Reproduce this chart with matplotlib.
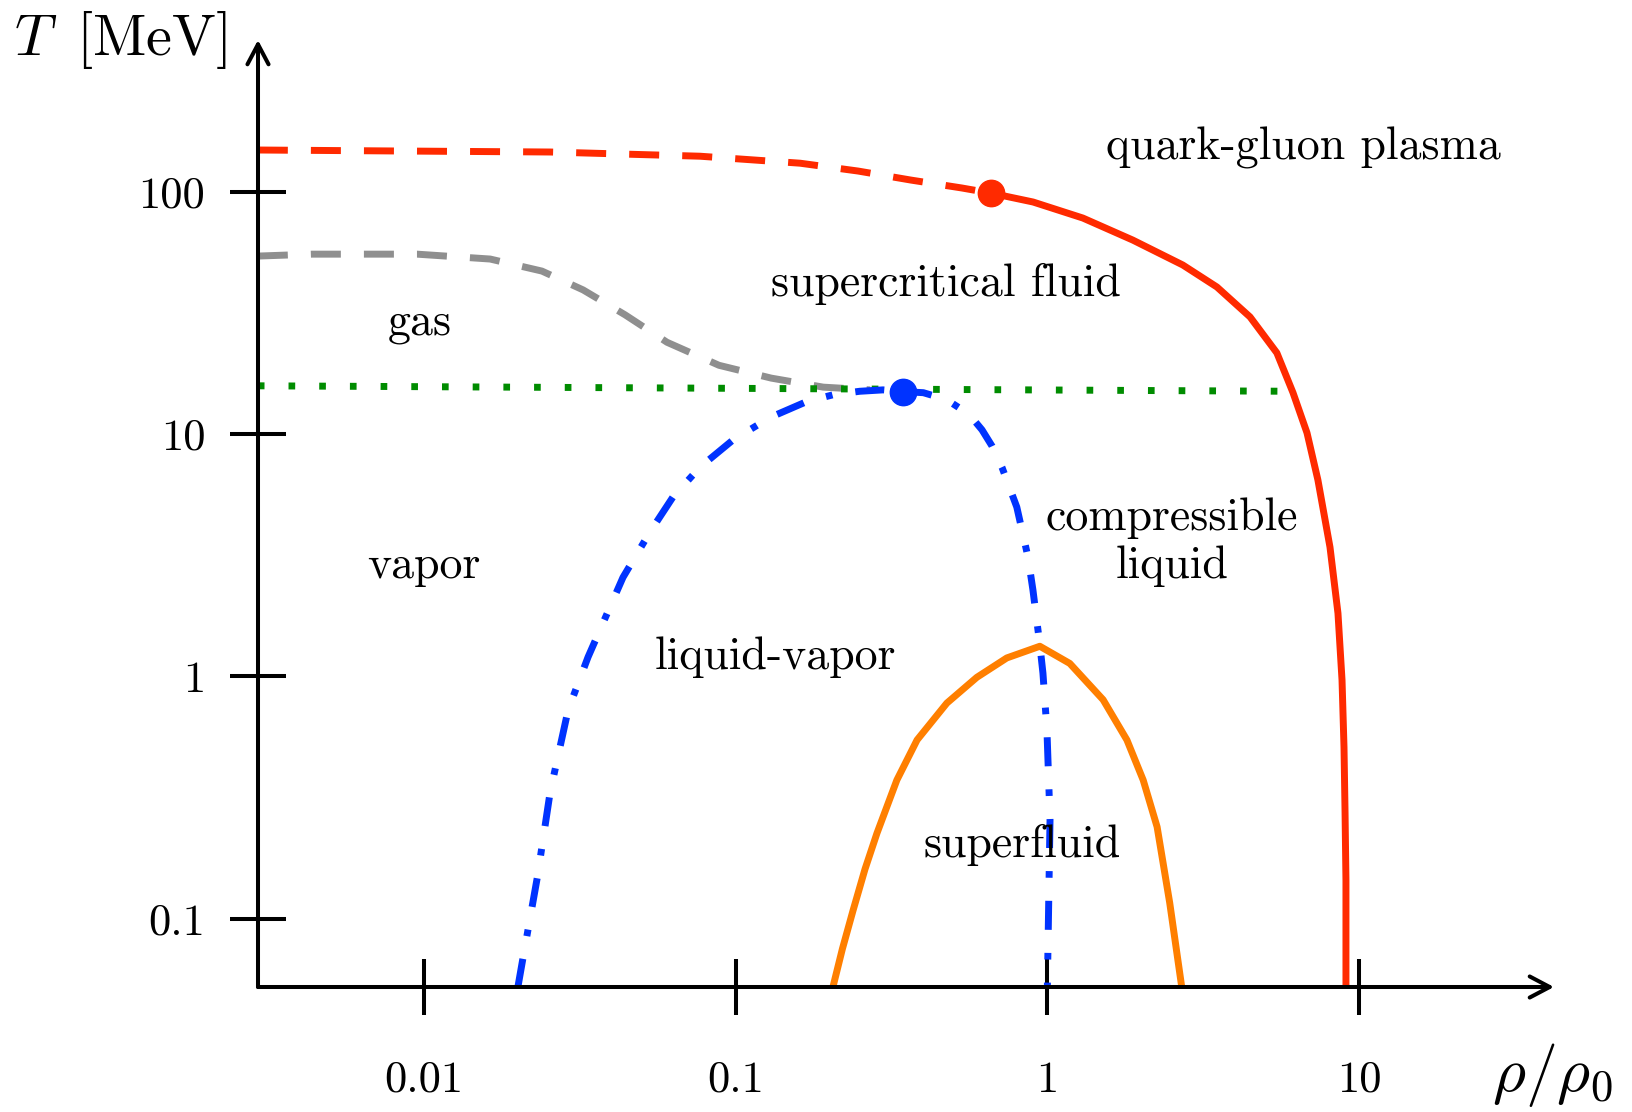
import matplotlib
matplotlib.use("Agg")
import matplotlib.pyplot as plt

plt.rcParams['font.family'] = ['cmr10', 'DejaVu Serif']
plt.rcParams['mathtext.fontset'] = 'cm'
plt.rcParams['axes.unicode_minus'] = False
plt.rcParams['lines.scale_dashes'] = False
plt.rcParams['lines.solid_joinstyle'] = 'round'
plt.rcParams['lines.dash_joinstyle'] = 'round'

# deconfinement line (dashed crossover part, then solid first-order part)
qgp_cross_x = [0.00293, 0.00837, 0.0254, 0.0768, 0.161, 0.247, 0.365, 0.532, 0.659]
qgp_cross_T = [148.5, 147.1, 145.7, 140.0, 131.0, 121.6, 111.6, 103.5, 98.6]
qgp_first_x = [0.659, 0.900, 1.30, 1.88, 2.72, 3.50, 4.47, 5.45, 6.14, 6.81, 7.38,
               8.07, 8.56, 8.82, 8.95, 9.02, 9.08, 9.08]
qgp_first_T = [98.6, 90.6, 77.8, 63.1, 49.8, 40.4, 30.4, 21.6, 14.8, 10.1, 6.46,
               3.41, 1.82, 0.965, 0.510, 0.273, 0.144, 0.052]
qgp_cep = (0.659, 98.6)

# gas / vapor crossover
gas_x = [0.00293, 0.00438, 0.0095, 0.0163, 0.0239, 0.0324, 0.0442, 0.0602,
         0.0884, 0.130, 0.191, 0.270]
gas_T = [54.2, 55.2, 55.2, 52.7, 47.0, 39.3, 31.0, 23.9, 19.2, 17.0, 15.6, 15.2]

# critical temperature line
tc_x = [0.00293, 6.0]
tc_T = [15.8, 15.0]

# liquid-vapor coexistence
lv_left_x = [0.0200, 0.0208, 0.0231, 0.0254, 0.0290, 0.0336, 0.0435, 0.0531,
             0.0629, 0.0768, 0.0980, 0.129, 0.169, 0.205, 0.250, 0.297, 0.344]
lv_left_T = [0.052, 0.0693, 0.148, 0.333, 0.726, 1.20, 2.56, 3.94,
             5.49, 7.29, 9.44, 11.7, 13.6, 14.5, 15.0, 15.2, 14.96]
lv_right_x = [0.344, 0.400, 0.446, 0.490, 0.532, 0.575, 0.617, 0.665, 0.715,
              0.798, 0.867, 0.899, 0.946, 0.968, 0.997, 1.02, 1.00]
lv_right_T = [14.96, 14.8, 14.2, 13.5, 12.6, 11.6, 10.4, 8.9, 7.29,
              4.99, 3.10, 2.27, 1.35, 1.03, 0.600, 0.255, 0.052]
lv_cep = (0.344, 14.96)

# superfluid dome
sf_x = [0.205, 0.220, 0.238, 0.260, 0.284, 0.329, 0.382, 0.476, 0.594, 0.741,
        0.946, 1.18, 1.51, 1.80, 2.03, 2.25, 2.47, 2.70]
sf_T = [0.052, 0.075, 0.108, 0.160, 0.225, 0.373, 0.546, 0.775, 0.99, 1.19,
        1.33, 1.13, 0.80, 0.546, 0.373, 0.239, 0.116, 0.052]

# region labels
region_names = ["quark-gluon plasma", "supercritical fluid", "gas", "vapor",
                "liquid-vapor", "compressible\nliquid", "superfluid"]
region_x = [6.61, 0.473, 0.00971, 0.0100, 0.134, 2.51, 0.829]
region_T = [151.4, 41.6, 28.7, 2.85, 1.20, 3.58, 0.201]

x_ticks = [0.01, 0.1, 1, 10]
x_labels = ["0.01", "0.1", "1", "10"]
y_ticks = [0.1, 1, 10, 100]
y_labels = ["0.1", "1", "10", "100"]

RED = '#ff2a00'
BLUE = '#0033ff'
GREEN = '#008c00'
ORANGE = '#ff7f00'
GRAY = '#8f8f8f'
LW = 5.0


def main():
    fig = plt.figure(figsize=(16.33, 11.12), dpi=100)
    ax = fig.add_axes([258/1633, 1 - 987/1112, (1554 - 258)/1633, (987 - 40)/1112])
    ax.set_xscale('log')
    ax.set_yscale('log')
    ax.set_xlim(10**-2.5326, 10**1.6256)
    ax.set_ylim(10**-1.2823, 10**2.6257)

    dash = (0, (21.6, 16.6))
    dashdot = (0, (20.9, 16.6, 4.8, 16.6))
    dots = (0, (4.8, 17.3))

    ax.plot(gas_x, gas_T, color=GRAY, lw=LW, ls=dash)
    ax.plot(tc_x, tc_T, color=GREEN, lw=LW, ls=dots)
    ax.plot(sf_x, sf_T, color=ORANGE, lw=LW)
    ax.plot(lv_left_x, lv_left_T, color=BLUE, lw=LW, ls=dashdot)
    ax.plot(lv_right_x, lv_right_T, color=BLUE, lw=LW, ls=dashdot)
    ax.plot(qgp_cross_x, qgp_cross_T, color=RED, lw=LW, ls=dash)
    ax.plot(qgp_first_x, qgp_first_T, color=RED, lw=LW)
    ax.plot(*qgp_cep, 'o', color=RED, ms=19, zorder=5)
    ax.plot(*lv_cep, 'o', color=BLUE, ms=19, zorder=5)

    for name, x, T in zip(region_names, region_x, region_T):
        ax.text(x, T, name, ha='center', va='center', fontsize=33, linespacing=1.2)

    # axes as arrows
    for sp in ax.spines.values():
        sp.set_visible(False)
    arrow = dict(arrowstyle='->, head_length=0.72, head_width=0.38', lw=2.9,
                 color='black', shrinkA=0, shrinkB=0, mutation_scale=20)
    ax.annotate('', xy=(1, 0), xytext=(0, 0), xycoords='axes fraction',
                arrowprops=arrow, annotation_clip=False)
    ax.annotate('', xy=(0, 1), xytext=(0, 0), xycoords='axes fraction',
                arrowprops=arrow, annotation_clip=False)

    ax.set_xticks(x_ticks, x_labels)
    ax.set_yticks(y_ticks, y_labels)
    ax.minorticks_off()
    ax.tick_params(axis='x', direction='inout', length=40, width=2.9, pad=33, labelsize=32)
    ax.tick_params(axis='y', direction='inout', length=40, width=2.9, pad=18, labelsize=32)

    ax.set_ylabel(r'$T\,$ [MeV]', rotation=0, fontsize=42, ha='center', va='center')
    ax.yaxis.set_label_coords(-0.1065, 1.0)
    ax.set_xlabel(r'$\rho/\rho_0$', fontsize=46, ha='center', va='center')
    ax.xaxis.set_label_coords(0.999, -0.093)

    fig.savefig('out.png', dpi=100)


if __name__ == "__main__":
    main()
